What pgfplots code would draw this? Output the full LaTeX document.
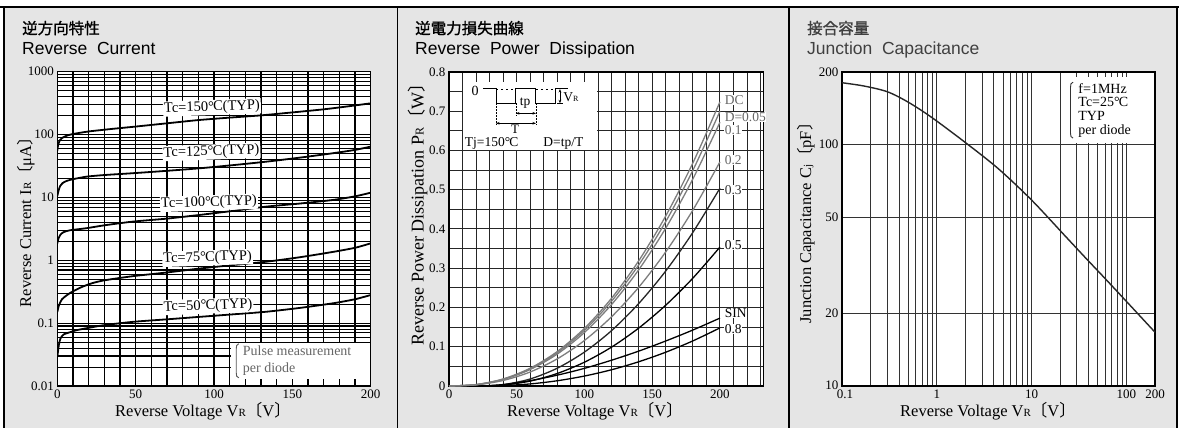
\documentclass[border=0pt]{standalone}
\usepackage{fontspec}
\usepackage{pgfplots}
\pgfplotsset{compat=1.18}
\usetikzlibrary{arrows.meta}
\setmainfont{Liberation Serif}
\newfontfamily\titlefont{Liberation Sans}
\newfontfamily\cjk{Noto Sans CJK JP}
\newfontfamily\cjkb[FakeBold=1.2]{Noto Sans CJK JP}
\definecolor{panelbg}{RGB}{229,229,229}
\definecolor{cgray}{RGB}{125,125,125}
\newcommand{\fs}[1]{\fontsize{#1bp}{#1bp}\selectfont}
\newcommand{\degC}{°\kern-0.06em C}
\newcommand{\lb}{{\cjk 〔}}
\newcommand{\rb}{{\cjk 〕}}
\newcommand{\sm}[1]{{\fontsize{11bp}{11bp}\selectfont #1}}
\pgfplotsset{
  panel/.style={
    scale only axis, anchor=south west,
    axis background/.style={fill=white},
    major tick length=0pt, minor tick length=0pt,
    axis line style={line width=1.3bp, black},
    tick label style={font=\fs{13}},
  }
}
\begin{document}
\begin{tikzpicture}
\useasboundingbox (0,0) rectangle (1179bp,428bp);
\fill[white] (0,0) rectangle (1179bp,428bp);
\fill[panelbg] (4bp,0) rectangle (1177bp,421bp);
\draw[line width=1.3bp] (0,421bp) -- (1179bp,421bp);
\draw[line width=1.3bp] (4bp,0) -- (4bp,421bp);
\draw[line width=1.3bp] (397.5bp,0) -- (397.5bp,421bp);
\draw[line width=1.3bp] (789bp,0) -- (789bp,421bp);
\draw[line width=1.3bp] (1177bp,0) -- (1177bp,421bp);

% titles
\node[anchor=base west, inner sep=0, font={\cjkb\fs{15.5}}] at (22bp,394bp) {逆方向特性};
\node[anchor=base west, inner sep=0, font={\titlefont\fs{17.5}}] at (22bp,373bp) {Reverse~~Current};
\node[anchor=base west, inner sep=0, font={\cjkb\fs{15.5}}] at (415bp,394bp) {逆電力損失曲線};
\node[anchor=base west, inner sep=0, font={\titlefont\fs{17.5}}] at (415bp,373bp) {Reverse~~Power~~Dissipation};
\node[anchor=base west, inner sep=0, font={\cjkb\fs{15.5}}, text=black!75] at (807bp,394bp) {接合容量};
\node[anchor=base west, inner sep=0, font={\titlefont\fs{17.5}}, text=black!75] at (807bp,373bp) {Junction~~Capacitance};

% axis labels
\node[anchor=base, inner sep=0, font=\fs{16.5}] at (203bp,11.3bp) {Reverse Voltage V\sm{R}\lb V\rb};
\node[anchor=base, inner sep=0, font=\fs{16.5}] at (595bp,11.3bp) {Reverse Voltage V\sm{R}\lb V\rb};
\node[anchor=base, inner sep=0, font=\fs{16.5}] at (988bp,11.3bp) {Reverse Voltage V\sm{R}\lb V\rb};
\node[anchor=base, rotate=90, inner sep=0, font=\fs{16.5}] at (31bp,210bp) {Reverse Current I\sm{R}\lb μA\rb};
\node[anchor=base, rotate=90, inner sep=0, font=\fs{18}] at (423.5bp,218bp) {Reverse Power Dissipation P{\fontsize{12bp}{12bp}\selectfont R}\lb W\rb};
\node[anchor=base, rotate=90, inner sep=0, font=\fs{16.5}] at (811bp,209bp) {Junction Capacitance C\sm{j}\lb pF\rb};

% ---------------- Panel 1 ----------------
\begin{axis}[panel, at={(57.3bp,42bp)}, width=313.4bp, height=314.3bp,
  xmin=0, xmax=200, ymode=log, ymin=0.01, ymax=1000,
  xtick={0,50,100,150,200}, xticklabels={0,50,100,150,200},
  minor xtick={10,20,30,40,60,70,80,90,110,120,130,140,160,170,180,190},
  ytick={0.01,0.1,1,10,100,1000}, yticklabels={0.01,0.1,1,10,100,1000},
  minor ytick={0.02,0.03,0.04,0.05,0.06,0.07,0.08,0.09,0.2,0.3,0.4,0.5,0.6,0.7,0.8,0.9,2,3,4,5,6,7,8,9,20,30,40,50,60,70,80,90,200,300,400,500,600,700,800,900},
  grid=both, major grid style={line width=1.1bp, black}, minor grid style={line width=1.1bp, black},
]
\addplot[line width=1.8bp, black, smooth, tension=0.4] coordinates {
(0,55) (0.5,68) (1.5,80) (3,88) (6,96) (10,102) (20,112) (35,123) (50,134) (70,151) (90,170) (110,186) (130,202) (150,225) (170,252) (185,280) (200,314)};
\addplot[line width=1.8bp, black, smooth, tension=0.4] coordinates {
(0,10.5) (0.7,12.5) (1.7,15) (3.5,17) (6,18.3) (10,19.5) (18.7,21.4) (30,22.7) (48.5,24.3) (70,26.5) (91,29.1) (112,32.6) (133.6,37.1) (155,43) (176,50.5) (190,57) (200,64.3)};
\addplot[line width=1.8bp, black, smooth, tension=0.4] coordinates {
(0,1.85) (0.7,2.2) (2,2.55) (4,2.8) (8,3.0) (18.7,3.24) (30,3.6) (48.5,4.13) (70,4.6) (91,5.27) (112,6.1) (133.6,7.15) (155,8.0) (176,9.12) (190,10.4) (200,11.9)};
\addplot[line width=1.8bp, black, smooth, tension=0.4] coordinates {
(0,0.15) (1,0.19) (3,0.24) (8,0.30) (15,0.37) (22,0.43) (30,0.48) (48.5,0.56) (70,0.64) (91,0.74) (112,0.84) (133.6,0.95) (155,1.12) (176,1.36) (190,1.58) (200,1.86)};
\addplot[line width=1.8bp, black, smooth, tension=0.4] coordinates {
(0,0.029) (1,0.045) (2,0.057) (4,0.066) (8.3,0.072) (12,0.077) (18.7,0.083) (30,0.093) (48.5,0.105) (70,0.115) (91,0.126) (112,0.138) (133.6,0.152) (155,0.175) (176,0.207) (190,0.24) (200,0.28)};
\node[fill=white, inner sep=1bp, rotate=2, font=\fs{14.5}] at (axis cs:98.7,270) {Tc=150\degC(TYP)};
\node[fill=white, inner sep=1bp, rotate=2, font=\fs{14.5}] at (axis cs:98.4,52.8) {Tc=125\degC(TYP)};
\node[fill=white, inner sep=1bp, rotate=2, font=\fs{14.5}] at (axis cs:96.8,8.2) {Tc=100\degC(TYP)};
\node[fill=white, inner sep=1bp, rotate=2, font=\fs{14.5}] at (axis cs:95.9,1.09) {Tc=75\degC(TYP)};
\node[fill=white, inner sep=1bp, rotate=2, font=\fs{14.5}] at (axis cs:96.2,0.187) {Tc=50\degC(TYP)};
\fill[white] (axis cs:110.7,0.0127) rectangle (axis cs:199.4,0.048);
\draw[line width=0.9bp, black!65] ([xshift=2.5bp]axis cs:114.2,0.047) to[out=180,in=90] ([yshift=-5bp]axis cs:114.2,0.047) -- ([yshift=5bp]axis cs:114.2,0.0135) to[out=-90,in=180] ([xshift=2.5bp]axis cs:114.2,0.0135);
\node[anchor=west, align=left, inner sep=0, text=black!60, font={\fontsize{14bp}{17.6bp}\selectfont}] at (axis cs:118.3,0.0254) {Pulse measurement\\per diode};
\end{axis}

% ---------------- Panel 2 ----------------
\begin{axis}[panel, at={(449bp,42bp)}, width=314.3bp, height=314bp, clip=false,
  xmin=0, xmax=232, ymin=0, ymax=0.8,
  xtick={0,50,100,150,200}, xticklabels={0,50,100,150,200},
  minor xtick={10,20,30,40,60,70,80,90,110,120,130,140,160,170,180,190,210,220,230},
  ytick={0,0.1,0.2,0.3,0.4,0.5,0.6,0.7,0.8}, yticklabels={0,0.1,0.2,0.3,0.4,0.5,0.6,0.7,0.8},
  minor ytick={0.05,0.15,0.25,0.35,0.45,0.55,0.65,0.75},
  grid=both, major grid style={line width=1bp, black!85}, minor grid style={line width=1bp, black!85},
]
\addplot[line width=1.3bp, cgray, smooth] coordinates {
(0,0) (20,0.0036) (40,0.0179) (60,0.0454) (80,0.0880) (100,0.1470) (120,0.2236) (140,0.3188) (160,0.4334) (180,0.5682) (200,0.724)};
\addplot[line width=1.3bp, cgray, smooth] coordinates {
(0,0) (20,0.0035) (40,0.0173) (60,0.0439) (80,0.0851) (100,0.1422) (120,0.2162) (140,0.3082) (160,0.4190) (180,0.5494) (200,0.700)};
\addplot[line width=1.3bp, cgray, smooth] coordinates {
(0,0) (20,0.0034) (40,0.0166) (60,0.0421) (80,0.0816) (100,0.1365) (120,0.2076) (140,0.2959) (160,0.4023) (180,0.5274) (200,0.672)};
\addplot[line width=1.3bp, cgray, smooth] coordinates {
(0,0) (20,0.0029) (40,0.0141) (60,0.0358) (80,0.0694) (100,0.1160) (120,0.1764) (140,0.2514) (160,0.3418) (180,0.4481) (200,0.571)};
\addplot[line width=1.3bp, black!85, smooth] coordinates {
(24,0) (40,0.0033) (60,0.0180) (80,0.0455) (100,0.0865) (120,0.1411) (140,0.2100) (160,0.2931) (180,0.3913) (200,0.504)};
\addplot[line width=1.3bp, black, smooth] coordinates {
(24,0) (40,0.0023) (60,0.0126) (80,0.0320) (100,0.0607) (120,0.0991) (140,0.1475) (160,0.2059) (180,0.2748) (200,0.354)};
\addplot[line width=1.3bp, black, smooth] coordinates {
(24,0) (40,0.0037) (60,0.0137) (80,0.0277) (100,0.0450) (120,0.0657) (140,0.0888) (160,0.1147) (180,0.1426) (200,0.173)};
\addplot[line width=1.3bp, black, smooth] coordinates {
(24,0) (40,0.0010) (60,0.0053) (80,0.0134) (100,0.0254) (120,0.0414) (140,0.0617) (160,0.0861) (180,0.1149) (200,0.148)};
% curve labels
\node[anchor=west, fill=white, inner sep=0.6bp, font=\fs{13.5}, text=black!60] at (axis cs:203,0.729) {DC};
\node[anchor=west, fill=white, inner sep=0.6bp, font=\fs{13.5}, text=black!60] at (axis cs:203,0.686) {D=0.05};
\node[anchor=west, fill=white, inner sep=0.6bp, font=\fs{13.5}, text=black!60] at (axis cs:203,0.652) {0.1};
\node[anchor=west, fill=white, inner sep=0.6bp, font=\fs{13.5}, text=black!60] at (axis cs:203,0.576) {0.2};
\node[anchor=west, fill=white, inner sep=0.6bp, font=\fs{13.5}, text=black!80] at (axis cs:203,0.499) {0.3};
\node[anchor=west, fill=white, inner sep=0.6bp, font=\fs{13.5}] at (axis cs:203,0.359) {0.5};
\node[anchor=west, fill=white, inner sep=0.6bp, font=\fs{13.5}] at (axis cs:203,0.186) {SIN};
\node[anchor=west, fill=white, inner sep=0.6bp, font=\fs{13.5}] at (axis cs:203,0.145) {0.8};
% inset
\fill[white] (axis cs:10.4,0.602) rectangle (axis cs:109.6,0.7755);
\draw[line width=1bp] (axis cs:25.3,0.7567) -- (axis cs:34.7,0.7567) -- (axis cs:34.7,0.7203) -- (axis cs:49.4,0.7203) -- (axis cs:49.4,0.7567) -- (axis cs:64.2,0.7567) -- (axis cs:64.2,0.7203) -- (axis cs:78.7,0.7203) -- (axis cs:78.7,0.7567) -- (axis cs:88.1,0.7567);
\draw[line width=0.9bp, dash pattern=on 2bp off 3bp] (axis cs:34.7,0.7567) -- (axis cs:49.4,0.7567);
\draw[line width=0.9bp, dash pattern=on 2bp off 3bp] (axis cs:64.2,0.7567) -- (axis cs:78.7,0.7567);
\draw[line width=0.8bp, dash pattern=on 1.5bp off 1.5bp] (axis cs:34.7,0.7203) -- (axis cs:34.7,0.664);
\draw[line width=0.8bp, dash pattern=on 1.5bp off 1.5bp] (axis cs:64.2,0.7203) -- (axis cs:64.2,0.664);
\draw[line width=0.8bp, dash pattern=on 1.5bp off 1.5bp] (axis cs:49.4,0.7203) -- (axis cs:49.4,0.688);
\draw[line width=0.9bp, {Stealth[length=3.5bp]}-{Stealth[length=3.5bp]}] (axis cs:49.4,0.6947) -- (axis cs:64.2,0.6947);
\draw[line width=0.9bp, {Stealth[length=3.5bp]}-{Stealth[length=3.5bp]}] (axis cs:34.7,0.6693) -- (axis cs:64.2,0.6693);
\draw[line width=0.9bp, {Stealth[length=3.5bp]}-{Stealth[length=3.5bp]}] (axis cs:81.9,0.7567) -- (axis cs:81.9,0.7203);
\draw[line width=0.9bp] (axis cs:79.8,0.7203) -- (axis cs:84,0.7203);
\node[font=\fs{14}, inner sep=0] at (axis cs:19.2,0.752) {0};
\node[font=\fs{13.5}, inner sep=0] at (axis cs:56.1,0.7215) {tp};
\node[font=\fs{13}, inner sep=0] at (axis cs:48.7,0.655) {T};
\node[anchor=west, font=\fs{13.5}, inner sep=0] at (axis cs:84.2,0.737) {V{\fontsize{8bp}{8bp}\selectfont R}};
\node[font=\fs{13.5}, inner sep=0] at (axis cs:31.5,0.619) {Tj=150\degC};
\node[font=\fs{13.5}, inner sep=0] at (axis cs:84.4,0.619) {D=tp/T};
\end{axis}

% ---------------- Panel 3 ----------------
\begin{axis}[panel, at={(842bp,42bp)}, width=313bp, height=314bp,
  xmode=log, ymode=log, xmin=0.1, xmax=200, ymin=10, ymax=200,
  xtick={0.1,1,10,100,200}, xticklabels={\kern6bp 0.1,1,10,100,200},
  minor xtick={0.2,0.3,0.4,0.5,0.6,0.7,0.8,0.9,2,3,4,5,6,7,8,9,20,30,40,50,60,70,80,90},
  ytick={10,20,50,100,200}, yticklabels={\raisebox{2.5bp}{10},20,50,100,200},
  minor ytick={},
  xmajorgrids, xminorgrids, ymajorgrids,
  major grid style={line width=1bp, black!80}, minor grid style={line width=1bp, black!80},
]
\addplot[line width=1.4bp, black!85, smooth] coordinates {
(0.1,180.5) (0.17,175) (0.3,165.7) (0.49,150.6) (0.86,130.6) (1.95,102.8) (4.42,79.7) (10,58.9) (22.6,41.8) (38.5,33.4) (57.9,28.2) (100,22.4) (200,16.7)};
\fill[white] (axis cs:21.5,102) rectangle (axis cs:190,190);
\draw[line width=0.9bp, black!80] ([xshift=2.5bp]axis cs:25.7,181.5) to[out=180,in=90] ([yshift=-5bp]axis cs:25.7,181.5) -- ([yshift=5bp]axis cs:25.7,106.4) to[out=-90,in=180] ([xshift=2.5bp]axis cs:25.7,106.4);
\node[anchor=west, align=left, inner sep=0, font={\fontsize{14bp}{13.9bp}\selectfont}] at (axis cs:31,138.5) {f=1MHz\\Tc=25\degC\\TYP\\per diode};
\end{axis}
\end{tikzpicture}
\end{document}
